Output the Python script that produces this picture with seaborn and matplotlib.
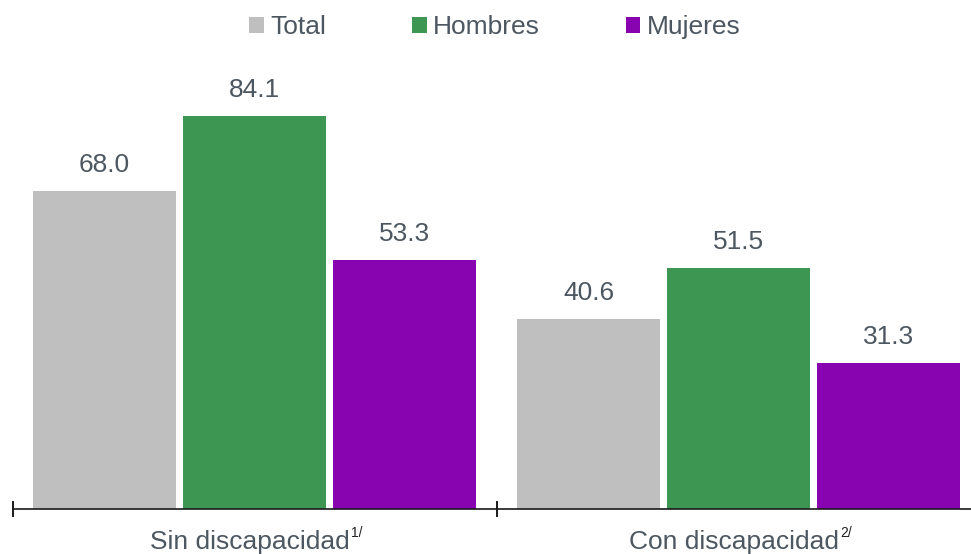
import numpy as np
import pandas as pd
import seaborn as sns
import matplotlib.pyplot as plt
from matplotlib.patches import Patch

# datos
grupos = ['Sin discapacidad', 'Con discapacidad']
notas = ['1/', '2/']
series = ['Total', 'Hombres', 'Mujeres']
total = [68.0, 40.6]
hombres = [84.1, 51.5]
mujeres = [53.3, 31.3]

colores = ['#bfbfbf', '#3d9651', '#8904b1']
gris_texto = '#4d5761'

sns.set_theme(style='white')
plt.rcParams['font.family'] = ['Liberation Sans', 'DejaVu Sans']

df = pd.DataFrame({
    'grupo': grupos * 3,
    'serie': np.repeat(series, 2),
    'valor': total + hombres + mujeres,
})

fig = plt.figure(figsize=(9.71, 5.54), dpi=100)
W, H = 971, 554
ax = fig.add_axes([12.5 / W, 45 / H, 958.5 / W, 467.7 / H])

sns.barplot(data=df, x='grupo', y='valor', hue='serie', hue_order=series,
            order=grupos, palette=colores, width=0.93, gap=0.053,
            saturation=1, linewidth=0, legend=False, ax=ax)

for c in ax.containers:
    ax.bar_label(c, fmt='%.1f', padding=10, fontsize=19, color=gris_texto)

ax.set_xlabel('')
ax.set_ylabel('')
ax.set_yticks([])
for s in ['top', 'right', 'left']:
    ax.spines[s].set_visible(False)
ax.spines['bottom'].set_color('#1a1a1a')
ax.spines['bottom'].set_linewidth(1.2)

# ticks entre grupos
ax.set_xticks([-0.5, 0.5])
ax.set_xticklabels([])
ax.tick_params(axis='x', which='major', direction='inout', length=11,
               width=1.4, color='#1a1a1a', bottom=True)
# etiquetas un poco a la izquierda para dejar sitio al superindice
ax.set_xticks([-0.0093, 0.9907], minor=True)
ax.set_xticklabels(grupos, minor=True, fontsize=19, color=gris_texto)
ax.tick_params(axis='x', which='minor', length=0, pad=15)
ax.set_xlim(-0.5, 1.5 - 9.5 / 484)
ax.set_ylim(0, 100)

# superindices
fig.canvas.draw()
r = fig.canvas.get_renderer()
for lab, nota in zip(ax.get_xticklabels(minor=True), notas):
    bb = lab.get_window_extent(renderer=r)
    fig.text((bb.x1 + 1) / W, (bb.y0 + 17) / H, nota, fontsize=10,
             color='#222222', ha='left', va='baseline')

handles = [Patch(facecolor=c, edgecolor='none') for c in colores]
fig.legend(handles, series, loc='center', bbox_to_anchor=(495 / W, 1 - 27 / H),
           ncol=3, frameon=False, fontsize=19, handlelength=0.55,
           handleheight=0.55, handletextpad=0.25, columnspacing=3.25,
           labelcolor=gris_texto)

fig.savefig('out.png', dpi=100)
